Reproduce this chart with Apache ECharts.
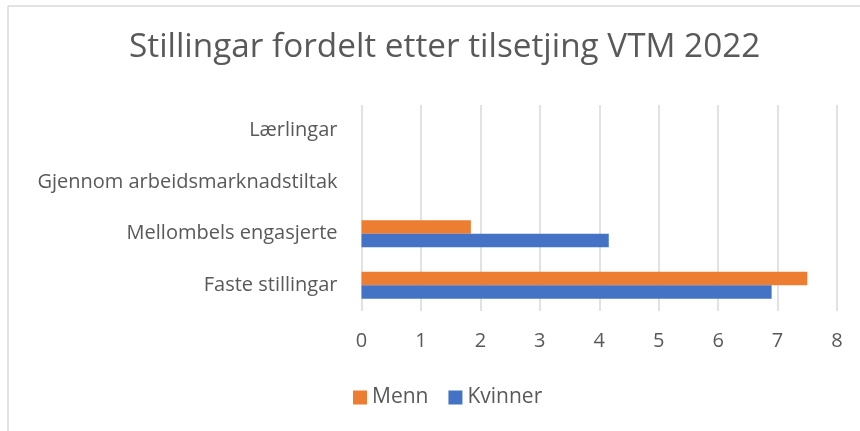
<!DOCTYPE html>
<html>
<head>
<meta charset="utf-8">
<script src="https://cdn.jsdelivr.net/npm/echarts@6/dist/echarts.min.js"></script>
<style>
html,body{margin:0;padding:0;background:#fff;}
#chart{width:860px;height:431px;}
</style>
</head>
<body>
<div id="chart"></div>
<script>
var titleText = 'Stillingar fordelt etter tilsetjing VTM 2022';
var categories = ['Faste stillingar', 'Mellombels engasjerte', 'Gjennom arbeidsmarknadstiltak', 'Lærlingar'];
var seriesNames = ['Menn', 'Kvinner'];
var menn = [7.5, 1.84, 0, 0];
var kvinner = [6.9, 4.16, 0, 0];
var xTicks = [0, 1, 2, 3, 4, 5, 6, 7, 8];

var FONT = 'Open Sans';
var TXT = '#595959';
var chart = echarts.init(document.getElementById('chart'), null, {renderer: 'canvas'});
chart.setOption({
  backgroundColor: '#fff',
  animation: false,
  title: {
    text: titleText,
    left: 124,
    top: 26,
    textStyle: {fontFamily: FONT, fontSize: 33.3, fontWeight: 'normal', color: TXT}
  },
  legend: {
    data: seriesNames,
    bottom: 18,
    left: 348,
    itemWidth: 14,
    itemHeight: 14,
    itemGap: 20,
    icon: 'rect',
    textStyle: {fontFamily: FONT, fontSize: 21, color: TXT}
  },
  grid: {left: 361.5, right: 23, top: 105, bottom: 120, containLabel: false},
  xAxis: {
    type: 'value',
    min: xTicks[0],
    max: xTicks[xTicks.length - 1],
    interval: 1,
    axisLine: {show: false},
    axisTick: {show: false},
    splitLine: {show: true, lineStyle: {color: '#d9d9d9', width: 1.5}},
    axisLabel: {fontFamily: FONT, fontSize: 20, color: TXT, margin: 20}
  },
  yAxis: {
    type: 'category',
    data: categories,
    axisLine: {show: false},
    axisTick: {show: false},
    axisLabel: {fontFamily: FONT, fontSize: 20, color: TXT, margin: 24}
  },
  series: [
    {name: seriesNames[0], type: 'bar', data: menn, itemStyle: {color: '#ed7d31'}, barGap: '0%', barCategoryGap: '48%'},
    {name: seriesNames[1], type: 'bar', data: kvinner, itemStyle: {color: '#4472c4'}, barGap: '0%', barCategoryGap: '48%'}
  ],
  graphic: [
    {type: 'line', shape: {x1: 8, y1: 6, x2: 8, y2: 431}, style: {stroke: '#d9d9d9', lineWidth: 1.5}},
    {type: 'line', shape: {x1: 8, y1: 6, x2: 860, y2: 6}, style: {stroke: '#d9d9d9', lineWidth: 1.5}}
  ]
});
</script>
</body>
</html>
